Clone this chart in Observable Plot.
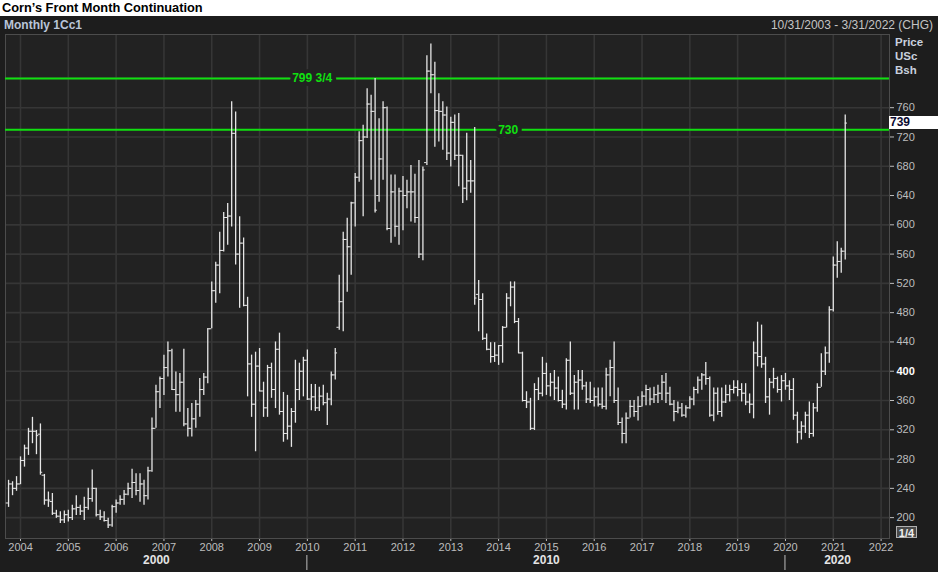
<!DOCTYPE html>
<html><head><meta charset="utf-8">
<script src="https://cdn.jsdelivr.net/npm/d3@7"></script>
<script src="https://cdn.jsdelivr.net/npm/@observablehq/plot@0.6"></script>
<style>
body{margin:0;background:#fff;}
#wrap{position:relative;width:940px;height:572px;overflow:hidden;font-family:"Liberation Sans",Arial,sans-serif;}
#title{position:absolute;left:2px;top:0;font-weight:bold;font-size:12.8px;color:#000;line-height:16px;white-space:nowrap;}
#panel{position:absolute;left:0;top:16px;width:938px;height:556px;background:#1d1d1d;}
#hdrL{position:absolute;left:4px;top:2px;font-weight:bold;font-size:12px;color:#b9c5d9;line-height:14px;}
#hdrR{position:absolute;right:5px;top:2px;font-size:12px;color:#c4c4c4;line-height:14px;}
#chart{position:absolute;left:0;top:33px;}
.unit{position:absolute;left:895px;font-weight:bold;font-size:11.5px;color:#c8d0de;line-height:13px;}
#last{position:absolute;left:889px;width:51px;height:13px;background:#fff;color:#0a0a30;font-weight:bold;font-size:12px;line-height:13px;padding-left:1px;box-sizing:border-box;}
#page{position:absolute;left:896px;top:526px;width:21px;height:12px;border:1px solid #b0b0b0;background:#4a4a4a;color:#f0f0f0;font-weight:bold;font-size:11px;line-height:12px;text-align:center;box-sizing:border-box;}
</style></head>
<body>
<div id="wrap">
  <div id="title">Corn’s Front Month Continuation</div>
  <div id="panel">
    <div id="hdrL">Monthly 1Cc1</div>
    <div id="hdrR">10/31/2003 - 3/31/2022 (CHG)</div>
  </div>
  <div id="chart"></div>
  <div class="unit" style="top:36px">Price</div>
  <div class="unit" style="top:50px">USc</div>
  <div class="unit" style="top:64px">Bsh</div>
  <div id="page">1/4</div>
</div>
<script>
// Monthly bars, starting October 2003 (cents per bushel)
const startYear = 2003, startMonth = 10;
const high = [
251,249,256,
283,299,322,337,319,328,259,235,233,210,208,209,
210,217,230,217,228,240,265,240,210,208,199,217,
224,230,237,247,266,260,260,251,269,336,381,392,
422,440,430,399,397,430,349,356,360,390,397,458,
522,549,590,617,629,768,754,611,582,501,422,426,
431,385,408,411,440,452,371,367,349,415,411,419,
429,382,382,378,381,370,399,431,531,590,609,631,
670,727,736,786,777,800,745,768,761,668,668,650,
666,661,681,669,688,679,831,847,822,779,768,761,
747,750,752,695,725,688,733,524,506,451,439,439,
435,461,506,522,522,472,426,372,363,383,391,419,
411,397,401,392,374,417,440,394,401,401,385,385,
377,377,377,404,415,440,377,336,343,360,360,365,
372,381,377,378,381,394,397,378,360,358,356,353,
365,378,392,397,412,392,377,377,377,381,381,387,
387,383,383,369,440,467,463,419,390,404,392,394,
397,387,390,344,331,344,358,356,383,424,433,488,
556,577,568,750];
const low = [
214,230,236,
245,269,285,301,286,258,217,214,203,199,192,192,
194,196,203,203,196,210,221,201,196,194,185,187,
206,217,217,230,226,230,221,217,224,262,322,349,
367,392,374,344,344,324,310,310,322,337,367,383,
458,493,506,563,572,597,545,486,488,365,337,290,
372,337,337,363,349,340,303,306,296,329,360,365,
360,346,345,345,353,326,353,388,456,454,508,531,
597,658,611,718,661,616,631,661,592,575,583,572,
592,622,604,602,554,551,681,779,706,713,702,688,
679,688,652,629,633,643,490,454,442,428,411,412,
408,411,459,488,465,424,358,349,319,319,360,365,
367,365,360,358,349,347,367,347,347,374,356,356,
351,351,348,347,365,356,326,301,301,336,337,332,
351,353,353,356,356,360,356,353,331,342,337,336,
348,353,369,374,381,337,331,340,337,356,358,369,
365,358,353,342,335,406,404,356,340,376,370,358,
374,360,333,301,306,315,308,310,344,378,394,411,
481,527,534,552];
const open = [
220,246,240,
246,278,295,318,318,314,258,224,222,206,202,197,
204,200,212,214,209,214,226,240,204,201,196,190,
215,220,225,232,240,248,237,246,230,264,322,372,
390,405,428,375,368,385,328,322,335,355,375,392,
458,510,545,565,610,612,725,560,575,490,410,355,
407,373,350,405,375,430,345,315,325,345,375,400,
415,362,365,350,366,357,362,395,460,495,580,570,
630,665,715,720,765,755,640,690,760,595,645,598,
646,640,645,645,610,560,685,810,805,756,755,750,
698,740,695,695,650,660,660,505,498,445,430,420,
422,435,460,500,515,468,425,360,358,322,375,370,
397,380,385,377,360,355,415,370,385,388,380,362,
360,365,355,352,395,405,360,330,315,336,352,345,
352,366,375,362,368,370,385,370,355,345,350,340,
350,362,375,388,395,390,340,370,345,358,368,375,
378,375,370,358,355,425,420,410,365,385,390,375,
387,380,375,340,317,325,340,315,350,378,400,425,
484,545,550,564];
const close = [
246,240,246,
278,295,318,318,312,262,224,224,206,202,197,204,
200,212,214,209,214,226,240,204,201,196,190,215,
220,225,232,240,248,237,246,230,264,322,372,390,
405,428,375,368,385,328,322,335,355,375,392,458,
510,545,565,610,612,725,560,575,490,410,355,407,
373,350,405,375,430,345,315,325,345,375,400,415,
362,365,350,366,357,362,395,425,495,580,570,630,
665,715,720,765,755,620,690,760,595,645,598,646,
640,645,645,610,560,675,810,805,756,755,750,698,
740,695,695,650,660,660,500,498,445,430,420,422,
435,460,500,515,468,425,360,358,322,375,370,397,
380,385,377,360,355,415,370,385,388,380,362,360,
365,355,352,395,405,360,330,315,336,352,345,352,
366,375,362,368,370,385,370,355,345,350,340,350,
362,375,388,395,390,340,370,345,358,368,375,378,
375,370,358,355,425,420,410,365,385,390,375,387,
380,375,340,317,325,340,315,350,378,400,425,484,
545,550,564,739];

const yearTicks = [2004,2005,2006,2007,2008,2009,2010,2011,2012,2013,2014,2015,2016,2017,2018,2019,2020,2021,2022];
const priceTicks = [200,240,280,320,360,400,440,480,520,560,600,640,680,720,760];
const gridPrices = [200,240,280,320,360,400,440,480,520,560,600,640,680,720,760,800];
const levelValues = [799.75, 730];
const levelLabels = ["799 3/4", "730"];
const decadeLabels = ["2000", "2010", "2020"];
const decadeStarts = [2000, 2010, 2020];
const lastPrice = 739;

// layout
const W = 940, H = 539, mL = 5, mR = 51, mT = 1, mB = 34;
const xDomain = [2003.686, 2022.176];
const yDomain = [171.5, 860.0];
const labelAt = [2010.1, 2014.2];

const bars = high.map((h, i) => ({
  t: startYear + (startMonth - 1 + i) / 12,
  open: open[i], high: h, low: low[i], close: close[i]
}));
const levels = levelValues.map((v, i) => ({value: v, label: levelLabels[i], at: labelAt[i]}));
const decades = decadeLabels.map((l, i) => {
  const a = Math.max(decadeStarts[i], xDomain[0]);
  const b = Math.min(decadeStarts[i] + 10, xDomain[1]);
  return {label: l, mid: (a + b) / 2};
});
const pxPerYear = (W - mL - mR) / (xDomain[1] - xDomain[0]);
const tk = 2.3 / pxPerYear;
const barColor = "#e6e6e6";

const chart = Plot.plot({
  width: W, height: H,
  marginLeft: mL, marginRight: mR, marginTop: mT, marginBottom: mB,
  style: {background: "transparent", color: "#bdbdbd", fontFamily: "'Liberation Sans', Arial, sans-serif", fontSize: "11px", overflow: "visible"},
  x: {domain: xDomain, ticks: yearTicks, tickFormat: d => String(d), tickSize: 3, tickPadding: 2, label: null},
  y: {domain: yDomain, axis: "right", ticks: priceTicks, tickSize: 4, tickPadding: 3, label: null},
  marks: [
    Plot.frame({fill: "#222222"}),
    Plot.ruleX(yearTicks, {stroke: "#363636", strokeWidth: 1.6}),
    Plot.ruleY(gridPrices, {stroke: "#363636", strokeWidth: 1.6}),
    Plot.frame({stroke: "#4c4c4c"}),
    Plot.ruleY(levels, {y: "value", stroke: "#10e010", strokeWidth: 2}),
    Plot.ruleX(bars, {x: "t", y1: "low", y2: "high", stroke: barColor, strokeWidth: 1.3}),
    Plot.ruleY(bars, {y: "open", x1: d => d.t - tk, x2: "t", stroke: barColor, strokeWidth: 1}),
    Plot.ruleY(bars, {y: "close", x1: "t", x2: d => d.t + tk, stroke: barColor, strokeWidth: 1}),
    Plot.text(levels, {x: "at", y: "value", text: "label", fill: "#10e010", stroke: "#222222", strokeWidth: 8, fontWeight: "bold", fontSize: 12}),
    Plot.text(decades, {x: "mid", text: "label", frameAnchor: "bottom", dy: 25, fill: "#e4e4e4", fontWeight: "bold", fontSize: 12})
  ]
});
document.getElementById("chart").appendChild(chart);

const svg = d3.select(chart);
svg.selectAll("text").filter(function(){ return this.textContent === "400"; })
  .attr("font-weight", "bold").attr("fill", "#ffffff");
const xs = chart.scale("x"), ys = chart.scale("y");
[2010, 2020].forEach(v => {
  const px = xs.apply(v);
  svg.append("line").attr("x1", px).attr("x2", px).attr("y1", H - mB + 17).attr("y2", H - 2)
    .attr("stroke", "#bdbdbd").attr("stroke-width", 1);
});
const last = document.createElement("div");
last.id = "last";
last.textContent = String(lastPrice);
last.style.top = (33 + ys.apply(lastPrice) - 6.5) + "px";
document.getElementById("wrap").appendChild(last);
</script>
</body></html>
